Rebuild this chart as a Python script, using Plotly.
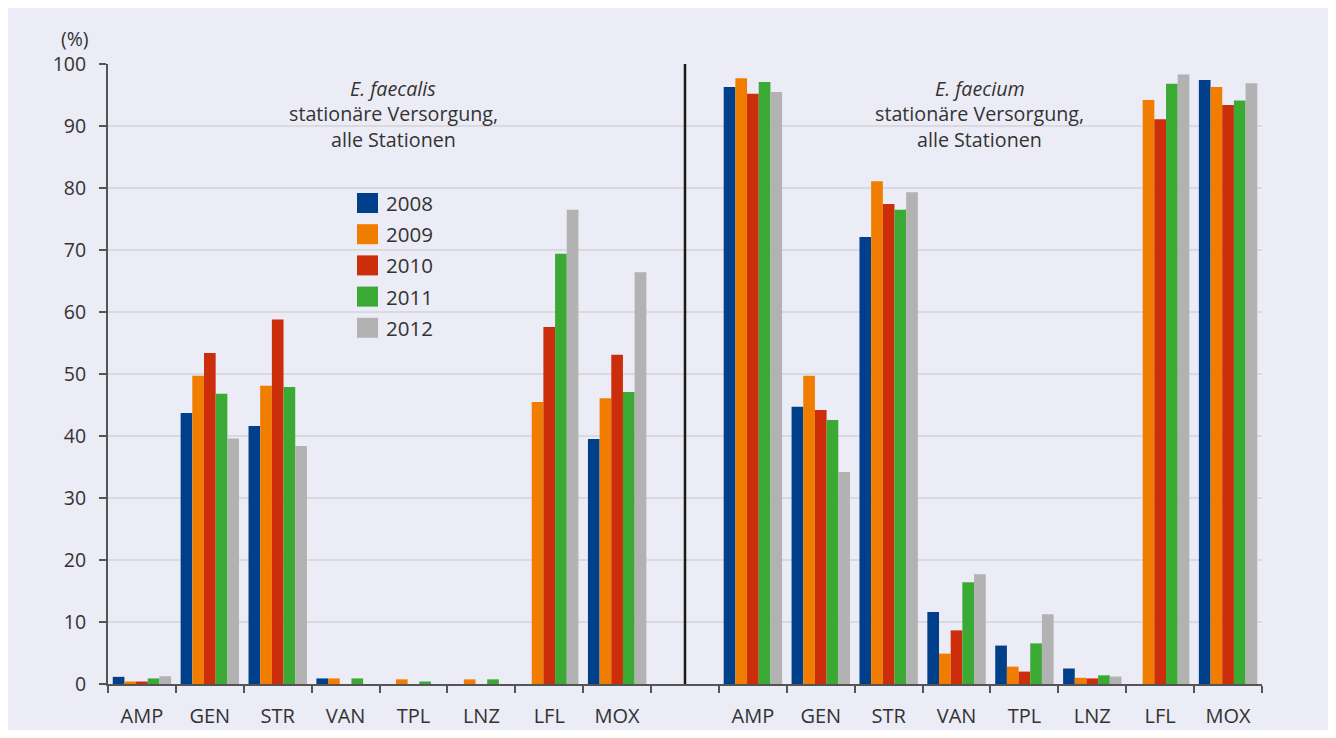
import plotly.graph_objects as go

categories = ["AMP", "GEN", "STR", "VAN", "TPL", "LNZ", "LFL", "MOX"]
years = ["2008", "2009", "2010", "2011", "2012"]
colors = ["#00408A", "#F07D00", "#CC2D0A", "#3AAA35", "#B2B2B2"]

# E. faecalis (left panel), values in %
faecalis_2008 = [1.15, 43.7, 41.6, 0.9, None, None, None, 39.5]
faecalis_2009 = [0.4, 49.7, 48.1, 0.9, 0.75, 0.75, 45.5, 46.1]
faecalis_2010 = [0.4, 53.4, 58.8, None, None, None, 57.6, 53.1]
faecalis_2011 = [0.9, 46.8, 47.9, 0.9, 0.4, 0.75, 69.4, 47.1]
faecalis_2012 = [1.25, 39.6, 38.4, None, None, None, 76.5, 66.4]

# E. faecium (right panel), values in %
faecium_2008 = [96.3, 44.7, 72.1, 11.6, 6.2, 2.5, None, 97.4]
faecium_2009 = [97.7, 49.7, 81.1, 4.9, 2.8, 1.0, 94.2, 96.3]
faecium_2010 = [95.2, 44.2, 77.4, 8.65, 2.0, 0.9, 91.1, 93.4]
faecium_2011 = [97.1, 42.6, 76.5, 16.4, 6.55, 1.4, 96.8, 94.1]
faecium_2012 = [95.5, 34.2, 79.3, 17.7, 11.25, 1.2, 98.3, 96.9]

faecalis = [faecalis_2008, faecalis_2009, faecalis_2010, faecalis_2011, faecalis_2012]
faecium = [faecium_2008, faecium_2009, faecium_2010, faecium_2011, faecium_2012]

panel_titles = [("E. faecalis", "stationäre Versorgung,", "alle Stationen"),
                ("E. faecium", "stationäre Versorgung,", "alle Stationen")]

y_ticks = list(range(0, 101, 10))

BG = "#EBECF5"
FONT = "Open Sans"
TXT = "#333333"

n = len(categories)
x_left = list(range(n))
x_right = [n + 1 + i for i in range(n)]
x_all = x_left + [n] + x_right
tick_labels = categories + [""] + categories

fig = go.Figure()
for yr, col, lv, rv in zip(years, colors, faecalis, faecium):
    fig.add_trace(go.Bar(
        x=x_all, y=lv + [None] + rv, name=yr,
        marker=dict(color=col, line=dict(width=0)),
        showlegend=False, hoverinfo="x+y+name",
    ))

total = len(x_all)
fig.update_layout(
    width=1320, height=722,
    margin=dict(l=100, r=66, t=56, b=46),
    paper_bgcolor=BG, plot_bgcolor=BG,
    barmode="group", bargap=0.14, bargroupgap=0,
    font=dict(family=FONT, size=19, color=TXT),
    xaxis=dict(
        range=[-0.5, total - 0.5], automargin=False,
        tickmode="array", tickvals=x_all, ticktext=tick_labels,
        ticks="", showgrid=False, zeroline=False,
        showline=True, linecolor="#555555", linewidth=2,
        tickfont=dict(size=20, color=TXT),
        ticklabelstandoff=13,
        minor=dict(tickmode="array",
                   tickvals=[i - 0.5 for i in range(total + 1)],
                   ticks="outside", ticklen=7, tickwidth=2,
                   tickcolor="#555555", showgrid=False),
    ),
    yaxis=dict(
        range=[0, 100], tickmode="array", tickvals=y_ticks, automargin=False,
        ticks="outside", ticklen=7, tickwidth=1.5, tickcolor="#555555",
        showline=True, linecolor="#555555", linewidth=2,
        showgrid=True, gridcolor="#D9D9DF", gridwidth=1.5,
        zeroline=False, tickfont=dict(size=19.5, color=TXT),
        ticklabelstandoff=9,
    ),
)

# divider between the two panels
fig.add_shape(type="line", xref="x", yref="paper", x0=n, x1=n, y0=0, y1=1,
              line=dict(color="#1A1A1A", width=2.5))

# unit label
fig.add_annotation(text="(%)", xref="paper", yref="paper", x=(75 - 108) / 1154.0, y=1.0,
                   yshift=26, showarrow=False, xanchor="center", yanchor="middle",
                   font=dict(size=19.5, color=TXT))

# panel titles
for cx, lines in zip([0.247, 0.7556], panel_titles):
    for k, line in enumerate(lines):
        txt = "<i>%s</i>" % line if k == 0 else line
        fig.add_annotation(text=txt, xref="paper", yref="paper", x=cx,
                           y=(684 - (88 + 25.5 * k)) / 620.0,
                           showarrow=False, xanchor="center", yanchor="middle",
                           font=dict(size=19.7, color=TXT))

# legend (drawn manually)
lx0, lx1 = (357 - 108) / 1154.0, (378 - 108) / 1154.0
for k, (yr, col) in enumerate(zip(years, colors)):
    cy = (684 - (203 + 31.2 * k)) / 620.0
    h = 10 / 620.0
    fig.add_shape(type="rect", xref="paper", yref="paper",
                  x0=lx0, x1=lx1, y0=cy - h, y1=cy + h,
                  fillcolor=col, line=dict(width=0))
    fig.add_annotation(text=yr, xref="paper", yref="paper",
                       x=(384 - 108) / 1154.0, y=cy, showarrow=False,
                       xanchor="left", yanchor="middle",
                       font=dict(size=20.5, color=TXT))

fig.write_html("out.html")
